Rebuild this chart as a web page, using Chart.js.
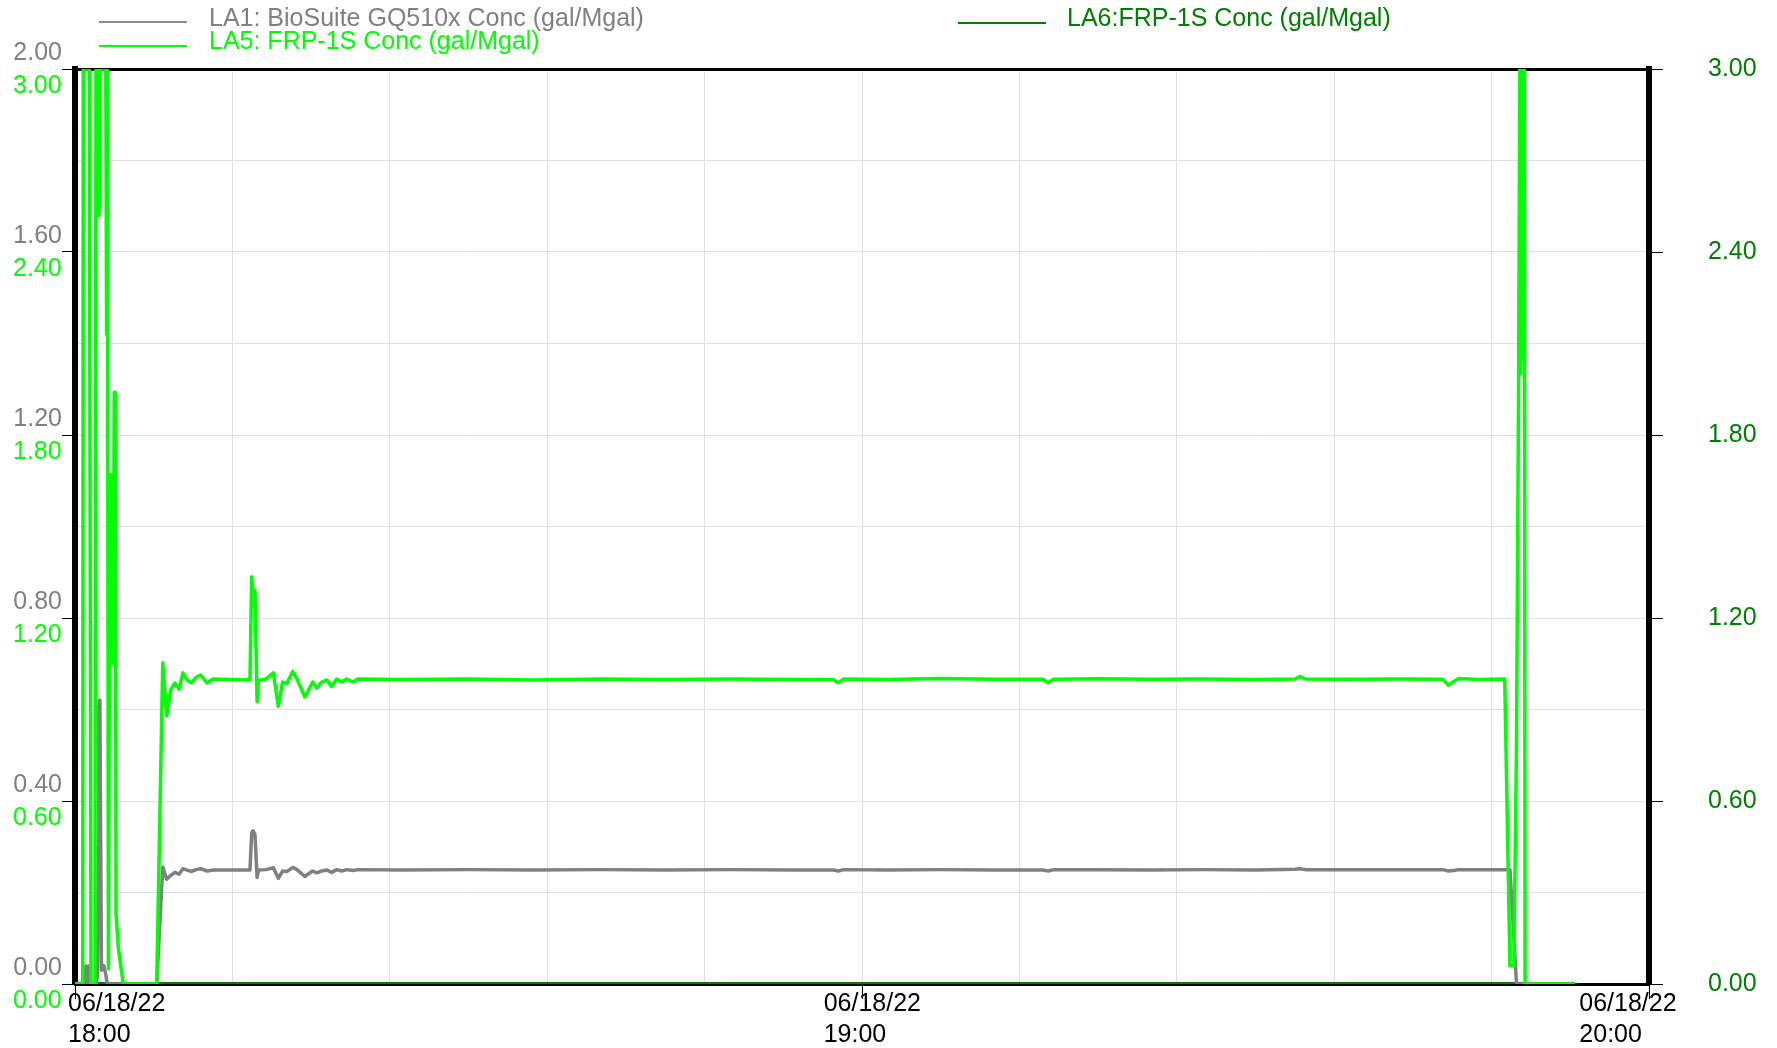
<!DOCTYPE html>
<html>
<head>
<meta charset="utf-8">
<script src="https://cdn.jsdelivr.net/npm/chart.js@4.4.0/dist/chart.umd.min.js"></script>
<style>
  body { margin: 0; background: #fff; }
  #wrap { position: relative; width: 1777px; height: 1048px; font-family: "Liberation Sans", Arial, sans-serif; }
  #chart { position: absolute; left: 0; top: 0; }
  .key { position: absolute; height: 2px; width: 88px; }
  .lbl { position: absolute; font-size: 25px; line-height: 25px; white-space: nowrap; }
</style>
</head>
<body>
<div id="wrap">
  <canvas id="chart" width="1777" height="1048"></canvas>
  <div class="key" style="left:99px;top:21px;background:#8c8c8c"></div>
  <div class="lbl" style="left:209px;top:5px;color:#808080">LA1: BioSuite GQ510x Conc (gal/Mgal)</div>
  <div class="key" style="left:99px;top:45px;background:#00ff00"></div>
  <div class="lbl" style="left:209px;top:28px;color:#00ff00">LA5: FRP-1S Conc (gal/Mgal)</div>
  <div class="key" style="left:958px;top:22px;background:#008000"></div>
  <div class="lbl" style="left:1067px;top:5px;color:#008000">LA6:FRP-1S Conc (gal/Mgal)</div>
</div>
<script>
// minutes after 06/18/22 18:00
const minutes = [
  0, 0.30, 0.59, 0.63, 0.84, 0.95, 1.09, 1.14, 1.22, 1.52,
  1.60, 1.72, 1.78, 1.82, 1.86, 1.90, 1.95, 2.02, 2.20, 2.35,
  2.41, 2.46, 2.55, 2.62, 2.67, 2.72, 2.77, 2.82, 2.88, 2.93,
  2.99, 3.07, 3.13, 3.30, 3.68, 5.00, 6.23, 6.69, 6.99, 7.29,
  7.62, 7.93, 8.23, 8.54, 8.90, 9.22, 9.58, 10.06, 10.52, 11.82,
  13.34, 13.47, 13.57, 13.72, 13.88, 13.99, 14.56, 15.12, 15.50, 15.83,
  16.16, 16.60, 16.92, 17.53, 17.76, 18.12, 18.42, 18.80, 19.21, 19.57,
  19.95, 20.33, 20.71, 21.19, 21.57, 25.0, 30.0, 35.0, 40.0, 45.0,
  50.0, 55.0, 57.8, 58.2, 58.6, 62.0, 66.0, 70.0, 73.8, 74.2,
  74.6, 78.0, 82.0, 86.0, 90.0, 93.0, 93.4, 93.8, 97.0, 101.0,
  104.3, 104.7, 105.1, 105.5, 107.0, 109.0, 109.4, 109.7, 109.9, 110.06,
  110.15, 110.22, 110.29, 110.36, 110.43, 110.50, 110.55, 112.0, 114.35
];

// LA5: FRP-1S Conc (gal/Mgal), left green axis
const la5 = [
  0, 0, 0, 3, 3, 3, 3, 3, 0, 0,
  3, 3, 2.52, 3, 2.55, 3, 3, 3, 3, 3,
  2.13, 3, 0.05, 1.05, 1.67, 1.10, 1.60, 1.05, 1.45, 1.20,
  1.94, 1.94, 0.23, 0.12, 0, 0, 0, 1.053, 0.879, 0.964,
  0.987, 0.967, 1.020, 0.997, 0.988, 1.005, 1.013, 0.987, 1.000, 0.998,
  0.997, 1.335, 1.290, 1.290, 0.926, 0.995, 1.000, 1.020, 0.911, 0.990,
  0.985, 1.025, 1.000, 0.941, 0.960, 0.990, 0.970, 0.990, 0.997, 0.975,
  1.000, 0.990, 1.000, 0.990, 1.000, 0.998, 1.000, 0.997, 1.000, 0.998,
  1.000, 0.998, 0.998, 0.988, 1.000, 0.998, 1.002, 0.999, 0.999, 0.988,
  0.999, 1.001, 0.999, 1.000, 0.998, 1.000, 1.008, 1.000, 0.999, 1.000,
  0.999, 0.980, 0.992, 1.002, 0.998, 1.000, 0.060, 0.060, 0.800, 1.970,
  3, 2.00, 3, 2.05, 3, 3, 0, 0, 0
];

// LA1: BioSuite GQ510x Conc (gal/Mgal), left gray axis
const la1 = [
  0, 0, 0, 0, 0.04, 0, 0.04, 0.01, 0, 0,
  0, 0.02, 0.30, 0.61, 0.62, 0.60, 0.35, 0.03, 0.04, 0.02,
  0.01, 0, 0, 0, 0, 0, 0, 0, 0, 0,
  0, 0, 0, 0, 0, 0, 0, 0.256, 0.229, 0.237,
  0.244, 0.240, 0.252, 0.249, 0.246, 0.250, 0.252, 0.247, 0.249, 0.249,
  0.249, 0.330, 0.335, 0.327, 0.233, 0.249, 0.250, 0.254, 0.231, 0.247,
  0.246, 0.255, 0.250, 0.235, 0.240, 0.247, 0.243, 0.247, 0.249, 0.244,
  0.250, 0.247, 0.250, 0.248, 0.250, 0.249, 0.250, 0.249, 0.250, 0.249,
  0.250, 0.249, 0.249, 0.247, 0.250, 0.249, 0.250, 0.249, 0.249, 0.247,
  0.250, 0.250, 0.249, 0.250, 0.249, 0.251, 0.252, 0.250, 0.250, 0.250,
  0.250, 0.247, 0.248, 0.250, 0.250, 0.250, 0.250, 0.100, 0, 0,
  0, 0, 0, 0, 0, 0, 0, 0, 0
];

// LA6: FRP-1S Conc (gal/Mgal), right axis
const la6Minutes = [0, 30, 60, 90, 114.35];
const la6 = [0, 0, 0, 0, 0];

// date/time labels on the hour
const hourTicks = [0, 60, 120];
const hourLabels = [['06/18/22', '18:00     '], ['06/18/22', '19:00     '], ['06/18/22', '20:00     ']];

function pts(xs, ys) {
  return xs.map((x, i) => ({ x: x, y: ys[i] }));
}

Chart.defaults.font.family = '"Liberation Sans", Arial, sans-serif';
Chart.defaults.font.size = 25;

const ctx = document.getElementById('chart').getContext('2d');
new Chart(ctx, {
  type: 'line',
  data: {
    datasets: [
      { label: 'LA6:FRP-1S Conc (gal/Mgal)', data: pts(la6Minutes, la6), yAxisID: 'yR',
        borderColor: '#008000', borderWidth: 4, pointRadius: 0, order: 3 },
      { label: 'LA1: BioSuite GQ510x Conc (gal/Mgal)', data: pts(minutes, la1), yAxisID: 'yL1',
        borderColor: '#808080', borderWidth: 3.5, pointRadius: 0, order: 2, borderJoinStyle: 'round' },
      { label: 'LA5: FRP-1S Conc (gal/Mgal)', data: pts(minutes, la5), yAxisID: 'yL5',
        borderColor: '#00ff00', borderWidth: 3.5, pointRadius: 0, order: 1, borderJoinStyle: 'round' }
    ]
  },
  options: {
    responsive: false,
    animation: false,
    layout: { padding: { top: 69, left: 0, right: 0, bottom: 0 } },
    plugins: { legend: { display: false }, tooltip: { enabled: false } },
    scales: {
      x: {
        type: 'linear', position: 'bottom', min: 0, max: 120, weight: 0,
        ticks: { stepSize: 12, autoSkip: false, display: false },
        grid: {
          color: '#e0e0e0', tickLength: 15,
          tickColor: (c) => (c.tick && hourTicks.includes(c.tick.value)) ? '#000' : 'rgba(0,0,0,0)'
        },
        border: { color: '#000', width: 3 },
        afterFit: (s) => { s.height = 0; }
      },
      // label row for the hour ticks, placed as in the source picture
      xLab: {
        type: 'linear', position: 'bottom', min: -3.31, max: 121.67, weight: 1,
        afterBuildTicks: (s) => { s.ticks = hourTicks.map(v => ({ value: v })); },
        ticks: {
          autoSkip: false, maxRotation: 0, color: '#000', padding: 4,
          font: { size: 25, lineHeight: 1.25 },
          callback: (v) => {
            const i = hourTicks.indexOf(v);
            return i >= 0 ? hourLabels[i] : '';
          }
        },
        grid: { display: false, drawTicks: false },
        border: { display: false },
        afterFit: (s) => { s.height = 64; }
      },
      xTop: {
        type: 'linear', position: 'top', min: 0, max: 120,
        ticks: { display: false },
        grid: { drawOnChartArea: false, drawTicks: false },
        border: { color: '#000', width: 3 },
        afterFit: (s) => { s.height = 0; }
      },
      yL1: {
        type: 'linear', position: 'left', min: 0, max: 2, weight: 1,
        ticks: {
          stepSize: 0.2, color: '#808080', padding: 0, labelOffset: -16,
          callback: (v, i) => i % 2 === 0 ? v.toFixed(2) : ''
        },
        grid: {
          color: '#e0e0e0', tickLength: 13,
          tickColor: (c) => c.index % 2 === 0 ? '#000' : 'rgba(0,0,0,0)'
        },
        border: { color: '#000', width: 6 },
        afterFit: (s) => { s.width = 75; }
      },
      yL5: {
        type: 'linear', position: 'left', min: 0, max: 3, weight: 0,
        ticks: {
          stepSize: 0.3, color: '#00ff00', mirror: true, padding: -62, labelOffset: 17,
          callback: (v, i) => i % 2 === 0 ? v.toFixed(2) : ''
        },
        grid: { display: false, drawTicks: false },
        border: { display: false },
        afterFit: (s) => { s.width = 0; }
      },
      yR: {
        type: 'linear', position: 'right', min: 0, max: 3,
        ticks: {
          stepSize: 0.3, color: '#008000', padding: 45,
          callback: (v, i) => i % 2 === 0 ? v.toFixed(2) : ''
        },
        grid: {
          drawOnChartArea: false, tickLength: 14,
          tickColor: (c) => c.index % 2 === 0 ? '#000' : 'rgba(0,0,0,0)'
        },
        border: { color: '#000', width: 6 },
        afterFit: (s) => { s.width = 128; }
      }
    }
  }
});
</script>
</body>
</html>
